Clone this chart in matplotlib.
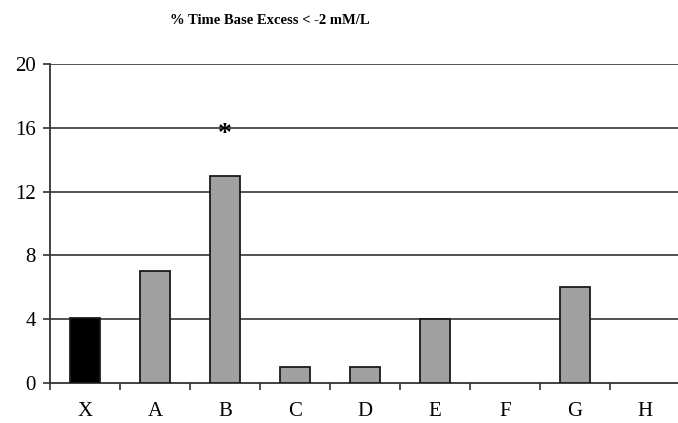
import matplotlib
matplotlib.use("Agg")
import matplotlib.pyplot as plt
import numpy as np

categories = ["X", "A", "B", "C", "D", "E", "F", "G", "H"]
values = [4.1, 7, 13, 1, 1, 4, 0, 6, 0]
colors = ["#000000"] + ["#a0a0a0"] * 8
yticks = [0, 4, 8, 12, 16, 20]
star_cat = "B"
star_y = 16

plt.rcParams['font.family'] = ['Liberation Serif', 'DejaVu Serif']

fig = plt.figure(figsize=(6.78, 4.23), dpi=100)
ax = fig.add_axes([50/678, 1 - 383/423, 630/678, (383-64)/423])

x = np.arange(len(categories))
lw = [1.3 if v > 0 else 0 for v in values]
ax.bar(x, values, width=0.42, color=colors, edgecolor="#1a1a1a", linewidth=lw, zorder=3)

ax.set_ylim(0, 20)
ax.set_xlim(-0.5, len(categories) - 0.5)
ax.set_yticks(yticks)
ax.set_yticklabels([str(t) for t in yticks], fontsize=15)
for t in yticks[1:]:
    ax.axhline(t, color="#333333", linewidth=1.2, zorder=1)

ax.set_xticks(x)
ax.set_xticklabels(categories, fontsize=15)
ax.set_xticks(np.arange(len(categories) + 1) - 0.5, minor=True)
ax.tick_params(axis="x", which="major", length=0, pad=14)
ax.tick_params(axis="x", which="minor", length=5, width=1.2, direction="out", color="#333333")
ax.tick_params(axis="y", length=5, width=1.2, direction="out", color="#333333", pad=5)

for s in ["top", "right"]:
    ax.spines[s].set_visible(False)
for s in ["left", "bottom"]:
    ax.spines[s].set_linewidth(1.3)
    ax.spines[s].set_color("#333333")

ax.annotate("*", xy=(categories.index(star_cat), star_y), xytext=(0, -5), textcoords="offset points",
            ha="center", va="center", fontsize=20, fontweight="bold", zorder=4)

fig.text(270/678, 1 - 20/423, "% Time Base Excess < -2 mM/L", ha="center", va="center",
         fontsize=10.5, fontweight="bold")

fig.savefig("out.png", dpi=100)
